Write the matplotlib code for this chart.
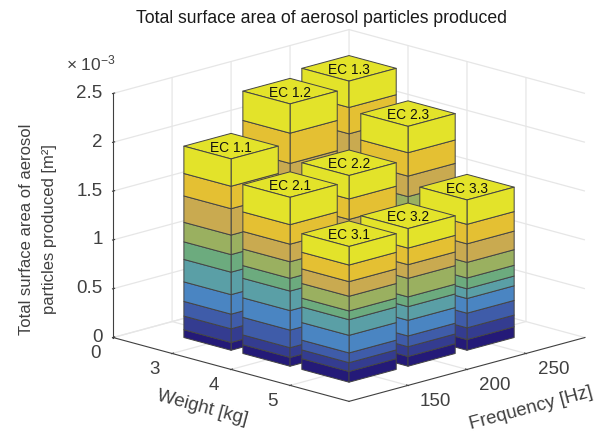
#!/usr/bin/env python
# -*- coding: utf-8 -*-
import matplotlib
matplotlib.use('Agg')
import matplotlib.pyplot as plt
from mpl_toolkits.mplot3d import proj3d
from mpl_toolkits.mplot3d.art3d import Poly3DCollection

plt.rcParams['font.family'] = ['Liberation Sans', 'DejaVu Sans']
plt.rcParams['mathtext.fontset'] = 'custom'
plt.rcParams['mathtext.rm'] = 'Liberation Sans'
plt.rcParams['mathtext.default'] = 'regular'

weights = [3, 4, 5]
frequencies = [150, 200, 250]
bar_names = [['EC 1.1', 'EC 1.2', 'EC 1.3'],
             ['EC 2.1', 'EC 2.2', 'EC 2.3'],
             ['EC 3.1', 'EC 3.2', 'EC 3.3']]

# layer thickness, bottom to top, in units of 1e-3 m2
ec_11 = [0.08, 0.14, 0.15, 0.20, 0.23, 0.18, 0.20, 0.27, 0.23, 0.28]
ec_12 = [0.10, 0.15, 0.18, 0.24, 0.27, 0.22, 0.28, 0.31, 0.31, 0.30]
ec_13 = [0.10, 0.16, 0.20, 0.27, 0.29, 0.24, 0.31, 0.32, 0.27, 0.27]
ec_21 = [0.09, 0.10, 0.18, 0.20, 0.20, 0.13, 0.17, 0.18, 0.20, 0.28]
ec_22 = [0.09, 0.12, 0.16, 0.20, 0.20, 0.14, 0.20, 0.23, 0.21, 0.24]
ec_23 = [0.10, 0.14, 0.20, 0.24, 0.27, 0.20, 0.26, 0.21, 0.24, 0.27]
ec_31 = [0.11, 0.09, 0.10, 0.18, 0.16, 0.09, 0.15, 0.15, 0.17, 0.19]
ec_32 = [0.10, 0.10, 0.11, 0.16, 0.14, 0.10, 0.19, 0.14, 0.17, 0.20]
ec_33 = [0.11, 0.12, 0.15, 0.15, 0.10, 0.11, 0.16, 0.19, 0.20, 0.25]
layers = [[ec_11, ec_12, ec_13], [ec_21, ec_22, ec_23], [ec_31, ec_32, ec_33]]

layer_colors = ['#241a78', '#343c90', '#3f5ca9', '#4a85c2', '#5a9fa6',
                '#6cab7e', '#9ab060', '#c9aa50', '#e4c033', '#e3e32a']

weight_ticks = [2, 3, 4, 5]
weight_labels = ['0', '3', '4', '5']
z_ticks = [0, 0.5, 1, 1.5, 2, 2.5]
z_labels = ['0', '0.5', '1', '1.5', '2', '2.5']

EDGE = '#444444'
AXIS = '#404040'
GRID = '#e6e6e6'


def draw_bar(ax, w, f, thickness, order):
    dw, df = 0.4, 20
    faces, colors = [], []
    z = 0
    for t, c in zip(thickness, layer_colors):
        top = z + t
        faces.append([(w + dw, f - df, z), (w + dw, f + df, z), (w + dw, f + df, top), (w + dw, f - df, top)])
        faces.append([(w - dw, f - df, z), (w + dw, f - df, z), (w + dw, f - df, top), (w - dw, f - df, top)])
        colors += [c, c]
        z = top
    faces.append([(w - dw, f - df, z), (w + dw, f - df, z), (w + dw, f + df, z), (w - dw, f + df, z)])
    colors.append(layer_colors[-1])
    poly = Poly3DCollection(faces, facecolors=colors, edgecolors=EDGE, linewidths=0.7, zorder=10 + order)
    ax.add_collection3d(poly)
    return z


def create_plot():
    fig = plt.figure(figsize=(6, 4.36), dpi=100)
    ax = fig.add_axes([82 / 600, -46.5 / 436, 520 / 600, 520 / 436], projection='3d', proj_type='ortho')
    ax.computed_zorder = False
    ax.view_init(elev=15.7, azim=-45)
    ax.set_box_aspect((4, 4, 3.04))

    tops = []
    order = 0
    for i, w in enumerate(weights):
        for j in range(2, -1, -1):
            f = frequencies[j]
            tops.append((w, f, draw_bar(ax, w, f, layers[i][j], order), bar_names[i][j]))
            order += 1

    ax.set_xlim(2, 6)
    ax.set_ylim(100, 300)
    ax.set_zlim(0, 2.5)
    ax.set_xticks(weight_ticks)
    ax.set_xticklabels(weight_labels)
    ax.set_yticks(frequencies)
    ax.set_zticks(z_ticks)
    ax.set_zticklabels(z_labels)
    ax.zaxis.set_ticks_position('lower')
    ax.tick_params(axis='both', labelsize=13.5, labelcolor=AXIS, color=AXIS, pad=2)
    ax.tick_params(axis='z', pad=-3.7)

    for t in ax.get_xticklabels():
        t.set_ha('right')
        t.set_va('center')
    for t in ax.get_yticklabels():
        t.set_ha('left')
        t.set_va('center')
    for t in ax.get_zticklabels():
        t.set_ha('right')
        t.set_va('center')

    for axis in (ax.xaxis, ax.yaxis, ax.zaxis):
        axis.set_pane_color((1, 1, 1, 1))
        axis.pane.set_edgecolor('white')
        axis.line.set_color(AXIS)
        axis.line.set_linewidth(0.8)
        axis._axinfo['grid']['color'] = GRID
        axis._axinfo['grid']['linewidth'] = 0.9
        axis._axinfo['tick']['linewidth'] = {True: 0.8, False: 0.8}
        axis._axinfo['tick']['inward_factor'] = 0.03
        axis._axinfo['tick']['outward_factor'] = 0.08

    # bar names go on the projected centre of each top face
    proj = ax.get_proj()
    for w, f, z, name in tops:
        px, py, _ = proj3d.proj_transform(w, f, z, proj)
        ax.text2D(px, py, name, transform=ax.transData, ha='center', va='center_baseline', fontsize=9.9,
                  color='#111111', zorder=100)

    fig.text(321 / 600, 1 - 18.5 / 436, 'Total surface area of aerosol particles produced',
             ha='center', va='center', fontsize=12.7, color='#1a1a1a')
    fig.text(91 / 600, 1 - 63 / 436, '× 10$^{-3}$', ha='center', va='center', fontsize=12.5, color=AXIS)
    fig.text(38 / 600, 1 - 229 / 436, 'Total surface area of aerosol\nparticles produced [m²]',
             rotation=90, ha='center', va='center', fontsize=12, color=AXIS, linespacing=1.7)
    fig.text(202 / 600, 1 - 408 / 436, 'Weight [kg]', rotation=-15, rotation_mode='anchor',
             ha='center', va='center', fontsize=13.5, color=AXIS)
    fig.text(531 / 600, 1 - 408 / 436, 'Frequency [Hz]', rotation=15, rotation_mode='anchor',
             ha='center', va='center', fontsize=13.5, color=AXIS)

    fig.savefig('out.png', dpi=100)


if __name__ == '__main__':
    create_plot()
